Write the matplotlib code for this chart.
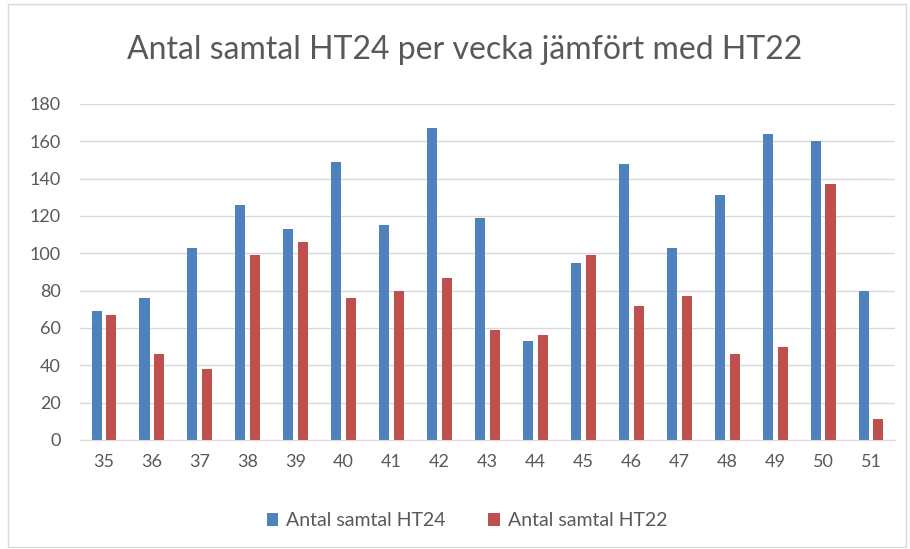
import numpy as np
import matplotlib.pyplot as plt
from matplotlib.patches import Rectangle

plt.rcParams['font.family'] = ['Lato', 'DejaVu Sans']

# Data
veckor = ['35', '36', '37', '38', '39', '40', '41', '42', '43',
          '44', '45', '46', '47', '48', '49', '50', '51']
ht24 = [69, 76, 103, 126, 113, 149, 115, 167, 119, 53, 95, 148, 103, 131, 164, 160, 80]
ht22 = [67, 46, 38, 99, 106, 76, 80, 87, 59, 56, 99, 72, 77, 46, 50, 137, 11]

blue = '#4F81BD'
red = '#C0504D'
textcol = '#595959'

fig = plt.figure(figsize=(9.10, 5.49), dpi=100)
ax = fig.add_axes([80 / 910, 1 - 440 / 549, 815 / 910, 336 / 549])

x = np.arange(len(veckor))
ax.bar(x - 0.155, ht24, width=0.21, color=blue, label='Antal samtal HT24', zorder=3)
ax.bar(x + 0.155, ht22, width=0.21, color=red, label='Antal samtal HT22', zorder=3)

ax.set_xlim(-0.5, len(veckor) - 0.5)
ax.set_ylim(0, 180)
ax.set_yticks(np.arange(0, 181, 20))
ax.set_xticks(x)
ax.set_xticklabels(veckor)
ax.grid(axis='y', color='#D9D9D9', linewidth=1, zorder=0)
for s in ['top', 'right', 'left']:
    ax.spines[s].set_visible(False)
ax.spines['bottom'].set_color('#D9D9D9')
ax.tick_params(axis='both', length=0, labelsize=13, colors=textcol)
ax.tick_params(axis='x', pad=10)
ax.tick_params(axis='y', pad=14)

fig.text(465 / 910, 1 - 50 / 549, 'Antal samtal HT24 per vecka jämfört med HT22',
         ha='center', va='center', fontsize=23, color=textcol)

fig.legend(loc='center', bbox_to_anchor=(467 / 910, 1 - 521 / 549), ncol=2, frameon=False,
           fontsize=14, labelcolor=textcol, handlelength=0.6, handleheight=0.6,
           columnspacing=2.2, handletextpad=0.4)

fig.patches.append(Rectangle((8 / 910, 2 / 549), 898 / 910, 543 / 549, transform=fig.transFigure,
                             fill=False, edgecolor='#D9D9D9', linewidth=1))

fig.savefig('out.png', dpi=100)
